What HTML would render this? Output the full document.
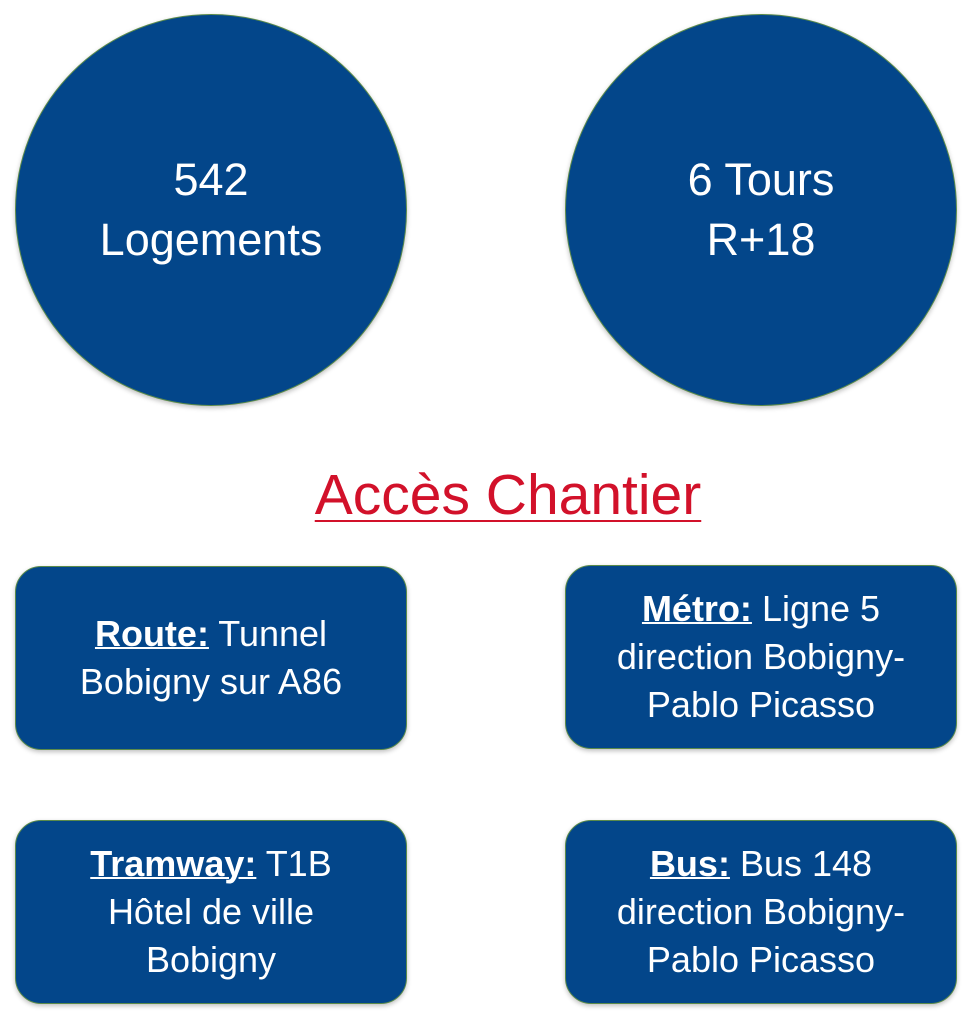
<!DOCTYPE html>
<html><head><meta charset="utf-8"><style>
body{margin:0;width:973px;height:1024px;background:#fff;position:relative;overflow:hidden;font-family:"Liberation Sans","DejaVu Sans",sans-serif;}
.c{position:absolute;width:392px;height:392px;border-radius:50%;background:#03468a;border:1.5px solid #5a8a4a;box-sizing:border-box;color:#fff;font-size:45px;line-height:60px;display:flex;align-items:center;justify-content:center;text-align:center;box-shadow:0 2px 5px rgba(0,0,0,.25);}
.b{position:absolute;width:392px;height:184px;border-radius:26px;background:#03468a;border:1.5px solid #5a8a4a;box-sizing:border-box;color:#fff;font-size:36px;line-height:48px;display:flex;align-items:center;justify-content:center;text-align:center;box-shadow:0 2px 5px rgba(0,0,0,.25);}
.b b{text-decoration:underline;text-decoration-thickness:2px;}
.t{position:absolute;left:0;width:1016px;top:462px;text-align:center;color:#d2112a;font-size:57px;text-decoration:underline;text-decoration-thickness:2px;text-underline-offset:6px;}
</style></head><body>
<div class="c" style="left:15px;top:14px;">542<br>Logements</div>
<div class="c" style="left:565px;top:14px;">6 Tours<br>R+18</div>
<div class="t">Accès Chantier</div>
<div class="b" style="left:15px;top:566px;"><div><b>Route:</b> Tunnel<br>Bobigny sur A86</div></div>
<div class="b" style="left:565px;top:565px;"><div><b>Métro:</b> Ligne 5<br>direction Bobigny-<br>Pablo Picasso</div></div>
<div class="b" style="left:15px;top:820px;"><div><b>Tramway:</b> T1B<br>Hôtel de ville<br>Bobigny</div></div>
<div class="b" style="left:565px;top:820px;"><div><b>Bus:</b> Bus 148<br>direction Bobigny-<br>Pablo Picasso</div></div>
</body></html>
